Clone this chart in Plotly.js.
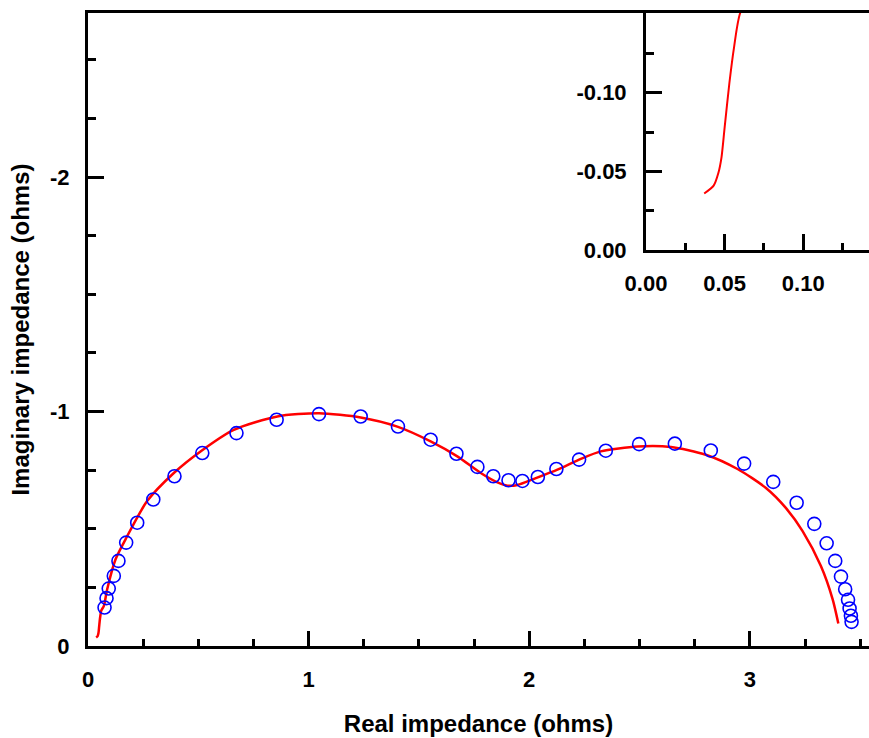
<!DOCTYPE html>
<html>
<head>
<meta charset="utf-8">
<script src="https://cdn.plot.ly/plotly-3.0.1.min.js"></script>
<style>html,body{margin:0;padding:0;background:#fff;}</style>
</head>
<body>
<div id="chart" style="width:869px;height:738px;"></div>
<script>
// Measured data (circles)
const dataRe = [0.075,0.084,0.094,0.117,0.138,0.173,0.223,0.296,0.392,0.518,0.673,0.855,1.047,1.236,1.405,1.553,1.670,1.765,1.837,1.906,1.969,2.039,2.123,2.226,2.347,2.498,2.660,2.823,2.974,3.106,3.212,3.292,3.348,3.387,3.413,3.432,3.445,3.452,3.458,3.461];
const dataIm = [-0.164,-0.204,-0.245,-0.299,-0.363,-0.441,-0.526,-0.625,-0.724,-0.823,-0.908,-0.965,-0.989,-0.979,-0.936,-0.880,-0.820,-0.764,-0.724,-0.707,-0.704,-0.721,-0.755,-0.795,-0.833,-0.861,-0.863,-0.834,-0.778,-0.700,-0.611,-0.521,-0.438,-0.363,-0.296,-0.242,-0.197,-0.160,-0.129,-0.103];

// Fitted curve (red line)
const fitRe = [0.037,0.043,0.046,0.048,0.050,0.053,0.056,0.060,0.072,0.087,0.125,0.170,0.268,0.389,0.510,0.661,0.858,1.047,1.236,1.402,1.553,1.674,1.780,1.856,1.901,1.947,2.022,2.128,2.234,2.324,2.491,2.642,2.800,2.944,3.073,3.163,3.239,3.322,3.375,3.401];
const fitIm = [-0.036,-0.041,-0.049,-0.059,-0.078,-0.106,-0.129,-0.151,-0.171,-0.242,-0.370,-0.455,-0.618,-0.738,-0.830,-0.922,-0.979,-0.993,-0.975,-0.936,-0.873,-0.809,-0.738,-0.698,-0.684,-0.687,-0.713,-0.752,-0.798,-0.830,-0.851,-0.849,-0.816,-0.755,-0.674,-0.589,-0.490,-0.341,-0.200,-0.096];

// Tick labels
const mainXTicks = [0,1,2,3];
const mainXLabels = ['0','1','2','3'];
const mainYTicks = [0,-1,-2];
const mainYLabels = ['0','-1','-2'];
const insetXTicks = [0,0.05,0.10];
const insetXLabels = ['0.00','0.05','0.10'];
const insetYTicks = [0,-0.05,-0.10];
const insetYLabels = ['0.00','-0.05','-0.10'];

const FONT = 'Liberation Sans, Arial, Helvetica, sans-serif';
const tickFont = {family: FONT, size: 22, color: '#000', weight: 'bold'};
const titleFont = {family: FONT, size: 24, color: '#000', weight: 'bold'};

const traces = [
  {x: fitRe, y: fitIm, type: 'scatter', mode: 'lines', line: {color: '#ff0000', width: 2.5, shape: 'spline', smoothing: 0.7}, xaxis: 'x', yaxis: 'y', hoverinfo: 'skip'},
  {x: dataRe, y: dataIm, type: 'scatter', mode: 'markers', marker: {symbol: 'circle-open', size: 13, color: '#0000ff', line: {width: 1.6, color: '#0000ff'}}, xaxis: 'x', yaxis: 'y'},
  {x: fitRe, y: fitIm, type: 'scatter', mode: 'lines', line: {color: '#ff0000', width: 2, shape: 'spline', smoothing: 0.7}, xaxis: 'x2', yaxis: 'y2', hoverinfo: 'skip'}
];

const axisCommon = {
  showgrid: false, zeroline: false, showline: true, linecolor: '#000', linewidth: 3,
  ticks: 'inside', tickcolor: '#000', tickwidth: 3, tickfont: tickFont
};

const layout = {
  width: 869, height: 738,
  margin: {l: 88, r: 0, t: 13, b: 92, pad: 0},
  paper_bgcolor: '#fff', plot_bgcolor: '#fff',
  showlegend: false,
  xaxis: Object.assign({}, axisCommon, {
    domain: [0, 1], anchor: 'y', range: [0, 3.54], mirror: true,
    tickmode: 'array', tickvals: mainXTicks, ticktext: mainXLabels, ticklen: 15,
    ticklabelstandoff: 12,
    minor: {dtick: 0.25, tick0: 0, ticks: 'inside', ticklen: 7, tickwidth: 3, tickcolor: '#000'},
    title: {text: 'Real impedance (ohms)', font: titleFont, standoff: 24}
  }),
  yaxis: Object.assign({}, axisCommon, {
    domain: [0, 1], anchor: 'x', range: [0, -2.7],
    tickmode: 'array', tickvals: mainYTicks, ticktext: mainYLabels, ticklen: 16,
    ticklabelstandoff: 11,
    minor: {dtick: 0.25, tick0: 0, ticks: 'inside', ticklen: 8, tickwidth: 3, tickcolor: '#000'},
    title: {text: 'Imaginary impedance (ohms)', font: titleFont, standoff: 14}
  }),
  xaxis2: Object.assign({}, axisCommon, {
    domain: [0.7145, 1], anchor: 'y2', range: [0, 0.1418],
    tickmode: 'array', tickvals: insetXTicks, ticktext: insetXLabels, ticklen: 16,
    ticklabelstandoff: 11,
    minor: {dtick: 0.025, tick0: 0, ticks: 'inside', ticklen: 7, tickwidth: 3, tickcolor: '#000'}
  }),
  yaxis2: Object.assign({}, axisCommon, {
    domain: [0.6252, 1], anchor: 'x2', range: [0, -0.1506],
    tickmode: 'array', tickvals: insetYTicks, ticktext: insetYLabels, ticklen: 16,
    ticklabelstandoff: 12,
    minor: {dtick: 0.025, tick0: 0, ticks: 'inside', ticklen: 8, tickwidth: 3, tickcolor: '#000'}
  })
};

Plotly.newPlot('chart', traces, layout, {displayModeBar: false, staticPlot: true});
</script>
</body>
</html>
